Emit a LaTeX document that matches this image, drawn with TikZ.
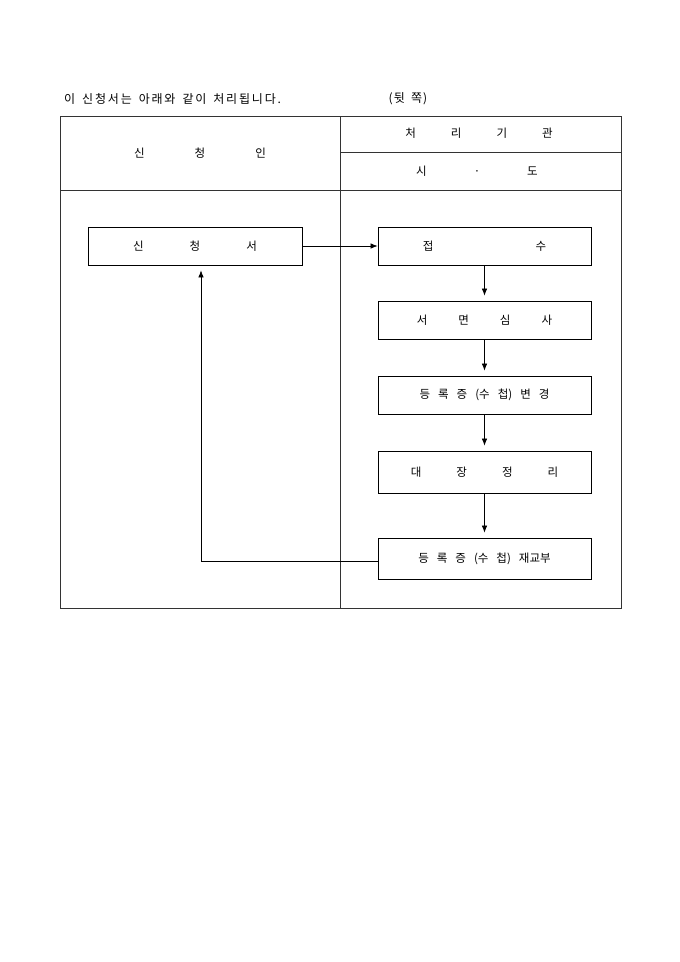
\documentclass[tikz,border=0pt]{standalone}
\usepackage{fontspec}
\setmainfont{Noto Sans CJK KR}
\usetikzlibrary{arrows.meta}
\begin{document}
\begin{tikzpicture}[x=1pt,y=-1pt]
        \tikzstyle{step box}=[rectangle,draw=black,line width=0.8pt,inner sep=0pt,minimum width=213pt,minimum height=38pt,font=\fontsize{11.5}{13}\selectfont]
        \tikzstyle{label}=[inner sep=0pt,font=\fontsize{11.5}{13}\selectfont]
        \tikzstyle{edge}=[draw, line width=0.7pt, ->, >={Latex[length=7pt,width=5.5pt]}, shorten >=5pt]
        \tikzstyle{rule}=[draw=black!80, line width=1pt]
        \useasboundingbox (0,0) rectangle (680,962);
        \begin{scope}
            % heading over the table
            \node [label,anchor=west,font=\fontsize{12}{14}\selectfont] (title) at (64,99) {\addfontfeature{LetterSpace=15}\spaceskip=7pt 이 신청서는 아래와 같이 처리됩니다.};
            \node [label,font=\fontsize{12}{14}\selectfont] (side) at (408,99) {\addfontfeature{LetterSpace=10}\spaceskip=6pt (뒷 쪽)};
            % table frame
            \path[rule] (60,116) rectangle (621,608);
            \path[rule] (340,116) -- (340,608);
            \path[rule] (60,190) -- (621,190);
            \path[rule] (340,152) -- (621,152);
            \node [label] (applicant) at (200,153) {신\hspace{50pt}청\hspace{50pt}인};
            \node [label] (office) at (479,133) {처\hspace{35pt}리\hspace{35pt}기\hspace{35pt}관};
            \node [label] (city) at (477,171) {시\hspace{47pt}·\hspace{47pt}도};
            % boxes
            \node [step box,minimum width=214pt] (form) at (195,246) {신\hspace{46pt}청\hspace{46pt}서};
            \node [step box] (receipt) at (484.5,246) {접\hspace{102pt}수};
            \node [step box] (review) at (484.5,320) {서\hspace{31pt}면\hspace{31pt}심\hspace{31pt}사};
            \node [step box] (change) at (484.5,395) {등\hspace{8pt}록\hspace{8pt}증\hspace{8pt}(수\hspace{8pt}첩)\hspace{8pt}변\hspace{8pt}경};
            \node [step box,minimum height=42pt] (ledger) at (484.5,472) {대\hspace{35pt}장\hspace{35pt}정\hspace{35pt}리};
            \node [step box,minimum height=41pt] (reissue) at (484.5,558.5) {등\hspace{8pt}록\hspace{8pt}증\hspace{8pt}(수\hspace{8pt}첩)\hspace{8pt}재교부};
            % flow
            \path[edge,shorten >=0pt] (form) -- (receipt);
            \path[edge] (receipt) -- (review);
            \path[edge] (review) -- (change);
            \path[edge] (change) -- (ledger);
            \path[edge] (ledger) -- (reissue);
            \path[edge] ([yshift=-2.5pt]reissue.west) -| ([xshift=6pt]form.south);
        \end{scope}
\end{tikzpicture}
\end{document}
